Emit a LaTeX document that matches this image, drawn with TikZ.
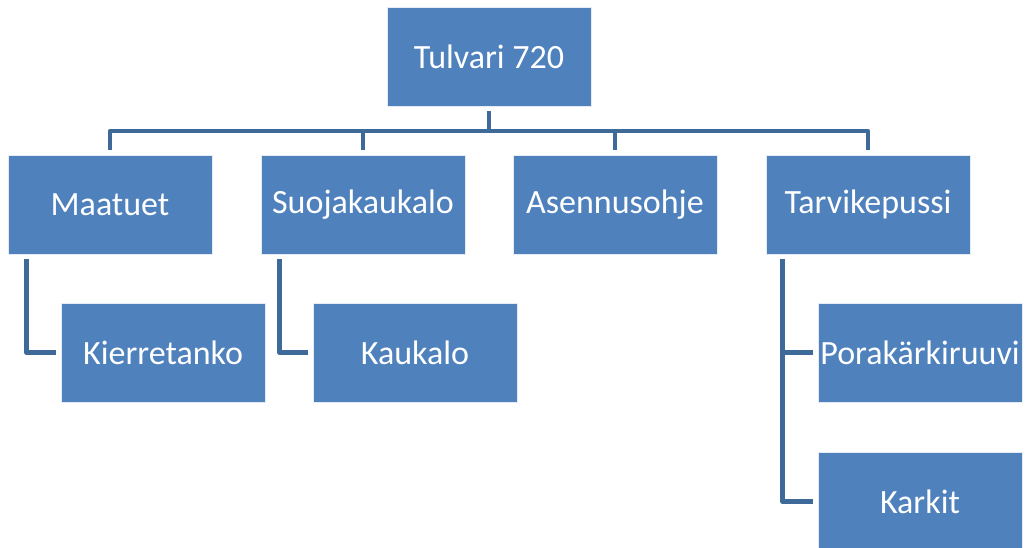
\documentclass[tikz,border=0pt]{standalone}
\usepackage{fontspec}
\setmainfont{Carlito}
\definecolor{boxblue}{RGB}{79,129,189}
\definecolor{linkblue}{RGB}{62,106,154}
\begin{document}
\begin{tikzpicture}[x=1pt,y=-1pt,
  item/.style={draw=white!85!boxblue, line width=0.8pt, fill=boxblue, text=white,
    minimum width=204pt, minimum height=99pt, inner sep=0pt,
    font=\fontsize{34}{40}\selectfont},
  link/.style={draw=linkblue, line width=4.5pt, line join=round,
    shorten <=5pt, shorten >=5pt}]
\useasboundingbox (0,0) rectangle (1025,547);
% top level
\node[item] (top) at (489,56.5) {Tulvari 720};
% second level
\node[item] (maatuet) at (110,204.5) {Maatuet};
\node[item] (suoja) at (363,204.5) {Suojakaukalo};
\node[item] (ohje) at (615,204.5) {Asennusohje};
\node[item] (tarvike) at (868,204.5) {Tarvikepussi};
% third level
\node[item] (kierre) at (163,352.5) {Kierretanko};
\node[item] (kaukalo) at (415,352.5) {Kaukalo};
\node[item] (ruuvi) at (920,352.5) {Porakärkiruuvi};
\node[item] (karkit) at (920,501.5) {Karkit};
% connectors from the root
\coordinate (bar) at (489,131);
\draw[link] (top.south) -- (bar) -| (maatuet.north);
\draw[link] (top.south) -- (bar) -| (suoja.north);
\draw[link] (top.south) -- (bar) -| (ohje.north);
\draw[link] (top.south) -- (bar) -| (tarvike.north);
% side branches
\draw[link] ([xshift=19pt]maatuet.south west) |- (kierre.west);
\draw[link] ([xshift=19pt]suoja.south west) |- (kaukalo.west);
\draw[link] ([xshift=17pt]tarvike.south west) |- (ruuvi.west);
\draw[link] ([xshift=17pt]tarvike.south west) |- (karkit.west);
\end{tikzpicture}
\end{document}
